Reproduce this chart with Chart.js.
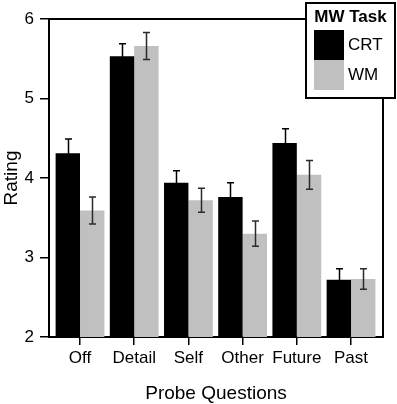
<!DOCTYPE html>
<html>
<head>
<meta charset="utf-8">
<script src="https://cdn.jsdelivr.net/npm/chart.js@4"></script>
<style>
html,body{margin:0;padding:0;background:#fff;}
#wrap{width:397px;height:404px;}
</style>
</head>
<body>
<div id="wrap"><canvas id="c" width="397" height="404"></canvas></div>
<script>
const categories = ["Off", "Detail", "Self", "Other", "Future", "Past"];
const crtValues = [4.31, 5.53, 3.94, 3.76, 4.44, 2.72];
const crtErrors = [0.18, 0.16, 0.15, 0.18, 0.18, 0.14];
const wmValues  = [3.59, 5.66, 3.72, 3.30, 4.04, 2.73];
const wmErrors  = [0.17, 0.17, 0.15, 0.16, 0.18, 0.13];
const yTicks = [2, 3, 4, 5, 6];
const legendTitle = "MW Task";

const FONT = "'Liberation Sans', Arial, Helvetica, sans-serif";

const toPoints = vals => vals.map((v, i) => ({x: i, y: v}));

const errorBars = {
  id: 'errorBars',
  afterDatasetsDraw(chart) {
    const ctx = chart.ctx;
    const ys = chart.scales.y;
    const errs = [crtErrors, wmErrors];
    const cols = ['#000000', '#2a2a2a'];
    ctx.save();
    ctx.lineWidth = 1.5;
    chart.data.datasets.forEach((ds, di) => {
      const meta = chart.getDatasetMeta(di);
      ctx.strokeStyle = cols[di];
      meta.data.forEach((bar, i) => {
        const v = ds.data[i].y;
        const e = errs[di][i];
        const x = Math.round(bar.x) + 0.5;
        const yt = ys.getPixelForValue(v + e);
        const yb = ys.getPixelForValue(v - e);
        ctx.beginPath();
        ctx.moveTo(x, yt); ctx.lineTo(x, yb);
        ctx.moveTo(x - 3.5, yt); ctx.lineTo(x + 3.5, yt);
        ctx.moveTo(x - 3.5, yb); ctx.lineTo(x + 3.5, yb);
        ctx.stroke();
      });
    });
    ctx.restore();
  }
};

const frameAndLegend = {
  id: 'frameAndLegend',
  afterDraw(chart) {
    const ctx = chart.ctx;
    const a = chart.chartArea;
    ctx.save();
    ctx.strokeStyle = '#000';
    ctx.lineWidth = 2;
    ctx.beginPath();
    ctx.moveTo(a.left - 1, a.top);
    ctx.lineTo(a.right, a.top);
    ctx.lineTo(a.right, a.bottom + 1);
    ctx.stroke();
    // legend box
    const lx = 306, ly = 3, lw = 89, lh = 95;
    ctx.fillStyle = '#fff';
    ctx.fillRect(lx, ly, lw, lh);
    ctx.strokeRect(lx, ly, lw, lh);
    ctx.fillStyle = '#000';
    ctx.font = "bold 17px " + FONT;
    ctx.textAlign = 'center';
    ctx.textBaseline = 'middle';
    ctx.fillText(legendTitle, lx + lw / 2, 17);
    ctx.textAlign = 'left';
    ctx.font = "17px " + FONT;
    chart.data.datasets.forEach((ds, i) => {
      const sy = 30 + i * 30;
      ctx.fillStyle = ds.backgroundColor;
      ctx.fillRect(314, sy, 30, 30);
      ctx.fillStyle = '#000';
      ctx.fillText(ds.label, 348, sy + 15);
    });
    ctx.restore();
  }
};

new Chart(document.getElementById('c'), {
  type: 'bar',
  data: {
    datasets: [
      {label: 'CRT', data: toPoints(crtValues), backgroundColor: '#000000', borderWidth: 0},
      {label: 'WM', data: toPoints(wmValues), backgroundColor: '#c0c0c0', borderWidth: 0}
    ]
  },
  options: {
    responsive: false,
    devicePixelRatio: 1,
    animation: false,
    categoryPercentage: 0.9,
    barPercentage: 1.0,
    layout: {padding: {top: 19, right: 14, left: 0, bottom: 0}},
    plugins: {legend: {display: false}, tooltip: {enabled: false}},
    scales: {
      x: {
        type: 'linear',
        min: -0.572,
        max: 5.59,
        offset: false,
        grid: {offset: false, drawOnChartArea: false, drawTicks: true, tickLength: 8, color: '#000', lineWidth: 1.5},
        border: {display: true, color: '#000', width: 2},
        ticks: {
          includeBounds: false, autoSkip: false, stepSize: 1,
          color: '#000', padding: 3,
          font: {family: FONT, size: 17},
          callback: v => categories[v]
        },
        afterBuildTicks: s => { s.ticks = categories.map((c, i) => ({value: i})); },
        afterFit: s => { s.height = 67; },
        title: {display: true, text: 'Probe Questions', color: '#000',
                font: {family: FONT, size: 19, lineHeight: 1}, padding: {top: 0, bottom: 1}}
      },
      y: {
        min: 2, max: 6,
        grid: {drawOnChartArea: false, drawTicks: true, tickLength: 9, color: '#000', lineWidth: 1.5},
        border: {display: true, color: '#000', width: 2},
        ticks: {stepSize: 1, color: '#000', padding: 6, font: {family: FONT, size: 17}},
        afterBuildTicks: s => { s.ticks = yTicks.map(v => ({value: v})); },
        afterFit: s => { s.width = 49; },
        title: {display: true, text: 'Rating', color: '#000',
                font: {family: FONT, size: 19, lineHeight: 1.2}, padding: {top: 0, bottom: 0}}
      }
    }
  },
  plugins: [errorBars, frameAndLegend]
});
</script>
</body>
</html>
